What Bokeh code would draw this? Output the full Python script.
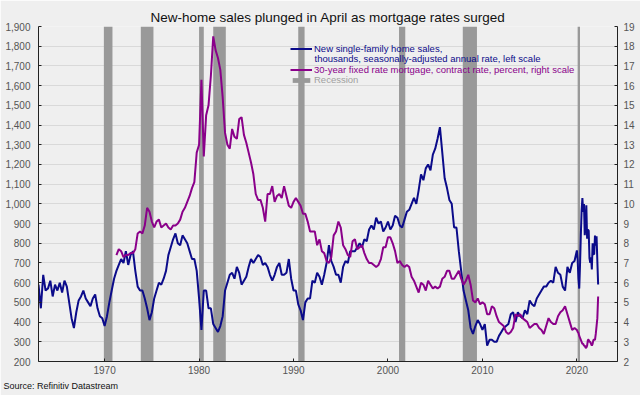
from bokeh.plotting import figure
from bokeh.models import (LinearAxis, Range1d, FixedTicker, NumeralTickFormatter,
                          Legend, LegendItem, Label, Title, ColumnDataSource)
from bokeh.embed import file_html
from bokeh.resources import INLINE

# ---------------- data ----------------
# New single-family home sales, thousands SAAR, quarterly from 1963 Q1 to 2019 Q4
sales_start_year = 1963
sales_quarterly = [
    590, 470, 640, 560,   # 1963
    570, 610, 530, 590,   # 1964
    560, 600, 550, 610,   # 1965
    580, 500, 420, 370,   # 1966
    450, 510, 530, 560,   # 1967
    520, 500, 480, 520,   # 1968
    540, 470, 430, 420,   # 1969
    380, 430, 500, 560,   # 1970
    620, 660, 690, 720,   # 1971
    700, 760, 690, 740,   # 1972
    760, 660, 580, 560,   # 1973
    560, 520, 470, 410,   # 1974
    450, 520, 560, 600,   # 1975
    590, 620, 660, 740,   # 1976
    780, 820, 850, 800,   # 1977
    790, 840, 820, 800,   # 1978
    760, 720, 720, 660,   # 1979
    520, 360, 560, 560,   # 1980
    470, 470, 390, 370,   # 1981
    350, 380, 430, 560,   # 1982
    600, 640, 650, 620,   # 1983
    680, 650, 590, 610,   # 1984
    630, 680, 720, 700,   # 1985
    720, 740, 730, 690,   # 1986
    700, 680, 640, 610,   # 1987
    640, 680, 700, 640,   # 1988
    640, 650, 720, 620,   # 1989
    560, 560, 490, 460,   # 1990
    410, 500, 520, 520,   # 1991
    610, 600, 650, 630,   # 1992
    590, 640, 700, 790,   # 1993
    710, 680, 640, 640,   # 1994
    600, 680, 710, 700,   # 1995
    760, 760, 760, 780,   # 1996
    800, 780, 820, 810,   # 1997
    870, 890, 870, 930,   # 1998
    900, 910, 860, 880,   # 1999
    910, 870, 890, 940,   # 2000
    930, 890, 880, 920,   # 2001
    960, 970, 1000, 1030, # 2002
    1000, 1070, 1150, 1120,  # 2003
    1180, 1200, 1170, 1250,  # 2004
    1280, 1330, 1389, 1260,  # 2005
    1130, 1080, 1020, 1000,  # 2006
    880, 880, 760, 660,   # 2007
    560, 510, 460, 370,   # 2008
    340, 380, 410, 390,   # 2009
    360, 390, 280, 310,   # 2010
    310, 300, 300, 330,   # 2011
    350, 370, 380, 390,   # 2012
    440, 450, 400, 450,   # 2013
    430, 420, 460, 440,   # 2014
    510, 490, 480, 520,   # 2015
    540, 560, 580, 580,   # 2016
    600, 610, 600, 680,   # 2017
    650, 640, 580, 560,   # 2018
    680, 650, 700, 710,   # 2019
]
# Monthly, Jan 2020 to Apr 2022
sales_monthly_start = 2020
sales_monthly = [
    764, 714, 619, 570, 691, 839, 965, 1029, 959, 999, 841, 885,   # 2020
    993, 823, 870, 863, 724, 701, 729, 667, 800, 745, 744, 839,    # 2021
    788, 835, 709, 591,                                            # 2022
]

# 30-year fixed mortgage contract rate, percent, quarterly from 1971 Q2 to 2019 Q4
rate_start_year = 1971.25
rate_quarterly = [
    7.4, 7.7, 7.6,              # 1971
    7.3, 7.4, 7.4, 7.5,         # 1972
    7.5, 7.7, 8.5, 8.6,         # 1973
    8.5, 8.9, 9.8, 9.6,         # 1974
    9.1, 8.8, 9.1, 9.2,         # 1975
    8.8, 8.9, 9.0, 8.8,         # 1976
    8.7, 8.9, 8.9, 9.0,         # 1977
    9.2, 9.6, 9.8, 10.1,        # 1978
    10.4, 10.8, 11.1, 12.6,     # 1979
    13.0, 16.3, 12.4, 14.5,     # 1980
    15.0, 16.5, 18.5, 17.8,     # 1981
    17.4, 16.8, 15.4, 13.6,     # 1982
    13.0, 12.8, 13.8, 13.4,     # 1983
    13.3, 14.3, 14.4, 13.5,     # 1984
    13.1, 12.6, 12.1, 11.5,     # 1985
    10.5, 10.2, 10.2, 9.8,      # 1986
    9.1, 10.5, 10.5, 10.9,      # 1987
    10.1, 10.4, 10.5, 10.3,     # 1988
    10.9, 10.4, 9.9, 9.8,       # 1989
    10.1, 10.3, 10.1, 9.9,      # 1990
    9.5, 9.5, 9.1, 8.6,         # 1991
    8.6, 8.6, 7.9, 8.2,         # 1992
    7.6, 7.5, 7.1, 7.0,         # 1993
    7.3, 8.4, 8.6, 9.1,         # 1994
    8.8, 7.9, 7.7, 7.4,         # 1995
    7.3, 8.1, 8.2, 7.7,         # 1996
    7.8, 7.9, 7.5, 7.2,         # 1997
    7.0, 7.0, 6.9, 6.8,         # 1998
    6.9, 7.2, 7.8, 7.8,         # 1999
    8.3, 8.3, 8.0, 7.6,         # 2000
    7.0, 7.1, 6.9, 6.8,         # 2001
    6.9, 6.8, 6.3, 6.1,         # 2002
    5.8, 5.5, 6.0, 5.9,         # 2003
    5.6, 6.1, 5.9, 5.7,         # 2004
    5.8, 5.7, 5.8, 6.2,         # 2005
    6.3, 6.6, 6.6, 6.2,         # 2006
    6.2, 6.4, 6.6, 6.2,         # 2007
    5.9, 6.1, 6.4, 5.9,         # 2008
    5.1, 5.0, 5.2, 4.9,         # 2009
    5.0, 4.9, 4.4, 4.4,         # 2010
    4.8, 4.7, 4.3, 4.0,         # 2011
    3.9, 3.8, 3.5, 3.4,         # 2012
    3.5, 3.7, 4.4, 4.3,         # 2013
    4.4, 4.2, 4.1, 4.0,         # 2014
    3.7, 3.8, 3.9, 3.9,         # 2015
    3.7, 3.6, 3.4, 3.8,         # 2016
    4.2, 4.0, 3.9, 3.9,         # 2017
    4.3, 4.5, 4.6, 4.8,         # 2018
    4.4, 4.0, 3.6, 3.7,         # 2019
]
rate_monthly_start = 2020
rate_monthly = [
    3.6, 3.5, 3.45, 3.3, 3.2, 3.1, 3.0, 2.9, 2.9, 2.8, 2.8, 2.7,   # 2020
    2.7, 2.8, 3.1, 3.1, 3.0, 3.0, 2.9, 2.8, 2.9, 3.1, 3.1, 3.1,   # 2021
    3.4, 3.8, 4.2, 5.3,                                           # 2022
]

# NBER recessions (decimal years)
rec_start = [1969.92, 1973.83, 1980.0, 1981.5, 1990.5, 2001.17, 2007.92, 2020.08]
rec_end = [1970.83, 1975.17, 1980.5, 1982.83, 1991.17, 2001.83, 2009.42, 2020.33]

left_ticks = list(range(200, 2000, 100))
right_ticks = list(range(2, 20))
x_ticks = [1970, 1980, 1990, 2000, 2010, 2020]
x_limits = (1963.0, 2024.3)
left_limits = (200, 1900)
right_limits = (2, 19)

# ---------------- derived series ----------------
sales_x = [sales_start_year + 0.25 * i for i in range(len(sales_quarterly))] + \
          [sales_monthly_start + m / 12 for m in range(len(sales_monthly))]
sales_y = sales_quarterly + sales_monthly
rate_x = [rate_start_year + 0.25 * i for i in range(len(rate_quarterly))] + \
         [rate_monthly_start + m / 12 for m in range(len(rate_monthly))]
rate_y = rate_quarterly + rate_monthly

BG = "#efefef"
FONT = "Liberation Sans"
BLUE = "#0b0b8a"
PURPLE = "#8a008a"
REC = "#999999"
TICK_COL = "#555555"

p = figure(width=640, height=395, output_backend="svg", toolbar_location=None,
           x_range=Range1d(*x_limits), y_range=Range1d(*left_limits),
           min_border_left=38, min_border_right=23, min_border_top=26,
           min_border_bottom=34)
p.background_fill_color = BG
p.border_fill_color = BG
p.outline_line_color = None
p.extra_y_ranges = {"rate": Range1d(*right_limits)}

p.title = Title(text="New-home sales plunged in April as mortgage rates surged",
                align="center", offset=-7, standoff=0, vertical_align="top",
                text_font=FONT, text_font_size="13.5px", text_font_style="normal",
                text_color="#111111")
p.add_layout(Title(text="Source: Refinitiv Datastream", align="left", offset=-35,
                   standoff=5, text_font=FONT, text_font_size="9px",
                   text_font_style="normal", text_color="#111111"), "below")

# recession bars
rec_src = ColumnDataSource(dict(left=rec_start, right=rec_end,
                                bottom=[left_limits[0]] * len(rec_start),
                                top=[left_limits[1]] * len(rec_start)))
rec_r = p.quad(left="left", right="right", bottom="bottom", top="top", source=rec_src,
               fill_color=REC, line_color=None, fill_alpha=1.0)

sales_r = p.line(sales_x, sales_y, line_color=BLUE, line_width=2)
rate_r = p.line(rate_x, rate_y, line_color=PURPLE, line_width=2, y_range_name="rate")

# axes
p.xaxis.ticker = FixedTicker(ticks=x_ticks)
p.yaxis.ticker = FixedTicker(ticks=left_ticks)
p.yaxis.formatter = NumeralTickFormatter(format="0,0")
right_axis = LinearAxis(y_range_name="rate", ticker=FixedTicker(ticks=right_ticks))
p.add_layout(right_axis, "right")

for ax in [p.xaxis[0], p.yaxis[0], right_axis]:
    ax.axis_line_color = "#222222"
    ax.major_tick_line_color = "#222222"
    ax.major_tick_in = 3
    ax.major_tick_out = 0
    ax.minor_tick_line_color = None
    ax.major_label_text_font = FONT
    ax.major_label_text_font_size = "10px"
    ax.major_label_text_color = TICK_COL
p.xaxis[0].major_label_standoff = 4
p.yaxis[0].major_label_standoff = 8
right_axis.major_label_standoff = 6

p.xgrid.grid_line_color = None
p.ygrid.grid_line_color = "#d9d9d9"
p.ygrid.ticker = FixedTicker(ticks=left_ticks)

# legends
def make_legend(label, renderer, color, x, y, gh):
    lg = Legend(items=[LegendItem(label=label, renderers=[renderer])],
                location=(x, y), padding=0, margin=0, spacing=0,
                glyph_width=22, glyph_height=gh, label_height=11,
                label_standoff=2, label_text_font=FONT,
                label_text_font_size="9.5px", label_text_color=color,
                background_fill_alpha=0, border_line_color=None)
    p.add_layout(lg, "center")

make_legend("New single-family home sales,", sales_r, BLUE, 252, 307, 11)
make_legend("30-year fixed rate mortgage, contract rate, percent, right scale",
            rate_r, PURPLE, 252, 286, 11)
make_legend("Recession", rec_r, "#a0a0a0", 252, 276, 6)
p.add_layout(Label(x=276, y=303, x_units="screen", y_units="screen",
                   text="thousands, seasonally-adjusted annual rate, left scale",
                   text_align="left", text_baseline="middle",
                   text_font=FONT, text_font_size="9.5px", text_color=BLUE))

open("out.html", "w").write(file_html(p, INLINE))
